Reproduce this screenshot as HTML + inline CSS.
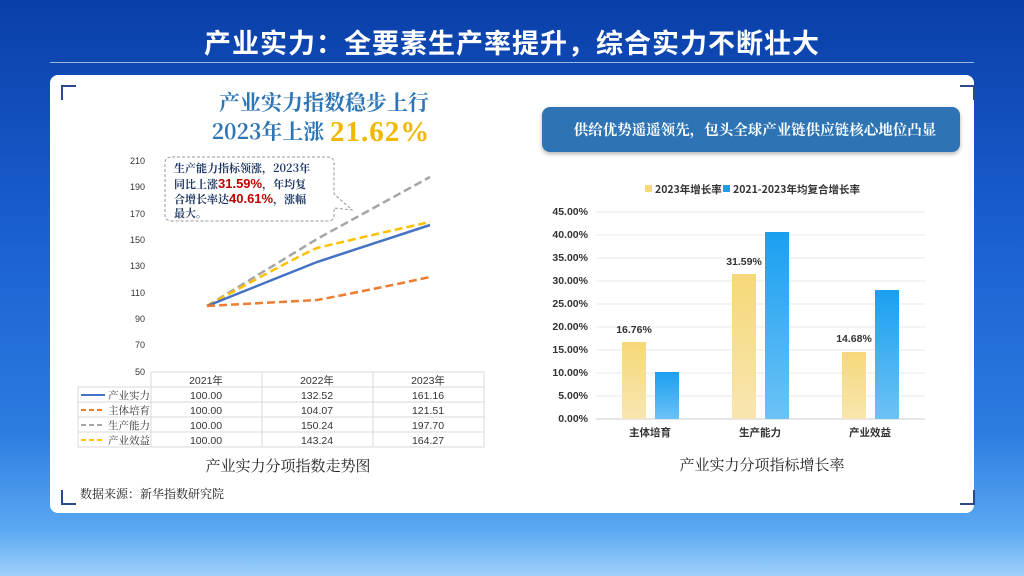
<!DOCTYPE html>
<html><head><meta charset="utf-8"><style>
body{margin:0;width:1024px;height:576px;overflow:hidden;font-family:"Liberation Sans","Noto Sans CJK SC",sans-serif;}
.bg{position:absolute;inset:0;background:linear-gradient(180deg,#0a3fa8 0%,#1a5fd0 40%,#2c7ce0 75%,#5aa8f2 92%,#9fd0fa 100%);}
.t{position:absolute;left:0;width:1024px;top:22px;text-align:center;color:#fff;font-size:27px;font-weight:bold;font-family:"Noto Sans CJK SC",sans-serif;letter-spacing:1px}
.card{position:absolute;left:50px;top:75px;width:924px;height:438px;background:#fff;border-radius:8px;}
.a{position:absolute}
</style></head><body>
<div class="bg"></div>
<div class="a" style="left:50px;top:62px;width:924px;height:1px;background:rgba(255,255,255,.6)"></div>
<div class="t">产业实力：全要素生产率提升，综合实力不断壮大</div>
<div class="card"></div>
<svg class="a" style="left:0;top:0" width="1024" height="576">
<g stroke="#2e4a8c" stroke-width="2" fill="none">
<path d="M62 100V86H76"/><path d="M62 490V504H76"/><path d="M960 86H974V100"/><path d="M960 504H974V490"/>
</g>
<text x="324" y="110" text-anchor="middle" font-family="Noto Serif CJK SC,serif" font-size="21" font-weight="bold" fill="#2e75b6">产业实力指数稳步上行</text>
<text x="268" y="139" text-anchor="middle" font-family="Noto Serif CJK SC,serif" font-size="21" font-weight="bold" fill="#2e75b6">2023年上涨</text>
<text x="330" y="141" font-family="Liberation Serif,serif" font-size="29" font-weight="bold" fill="#f0b800" letter-spacing="1">21.62%</text>
<g font-size="9" fill="#333" text-anchor="end">
<text x="145" y="164">210</text><text x="145" y="190">190</text><text x="145" y="217">170</text><text x="145" y="243">150</text><text x="145" y="269">130</text><text x="145" y="296">110</text><text x="145" y="322">90</text><text x="145" y="348">70</text><text x="145" y="375">50</text>
</g>
<path d="M207 306L317 239L430 177" stroke="#a5a5a5" stroke-width="2.5" stroke-dasharray="8,4" fill="none"/>
<path d="M207 306Q300 255 317 248Q380 233 430 222" stroke="#ffc000" stroke-width="2.5" stroke-dasharray="8,4" fill="none"/>
<path d="M207 306L317 262L430 225" stroke="#4472c4" stroke-width="2.5" fill="none"/>
<path d="M207 306Q280 302 317 300Q370 290 430 277" stroke="#ed7d31" stroke-width="2.5" stroke-dasharray="8,4" fill="none"/>
<path d="M172 157H328Q334 157 334 163V194L352 210L334 208V215Q334 221 328 221H172Q165 221 165 215V163Q165 157 172 157Z" fill="#fff" stroke="#999" stroke-dasharray="3,2"/>
<g font-family="Noto Serif CJK SC,serif" font-size="11" font-weight="bold" fill="#1f3864">
<text x="174" y="172">生产能力指标领涨，2023年</text>
<text x="174" y="188">同比上涨<tspan fill="#c00000" font-size="13" font-family="Liberation Sans">31.59%</tspan>，年均复</text>
<text x="174" y="203">合增长率达<tspan fill="#c00000" font-size="13" font-family="Liberation Sans">40.61%</tspan>，涨幅</text>
<text x="174" y="217">最大。</text>
</g>
<g stroke="#d9d9d9" fill="none">
<path d="M151 372H484V447H78V387H484M78 402H484M78 417H484M78 432H484M151 372V447M262 372V447M373 372V447M484 372V447M78 387V447"/>
</g>
<g font-size="10.5" fill="#333" text-anchor="middle">
<text x="206" y="384">2021年</text><text x="317" y="384">2022年</text><text x="428" y="384">2023年</text>
<text x="206" y="399">100.00</text><text x="317" y="399">132.52</text><text x="428" y="399">161.16</text>
<text x="206" y="414">100.00</text><text x="317" y="414">104.07</text><text x="428" y="414">121.51</text>
<text x="206" y="429">100.00</text><text x="317" y="429">150.24</text><text x="428" y="429">197.70</text>
<text x="206" y="444">100.00</text><text x="317" y="444">143.24</text><text x="428" y="444">164.27</text>
</g>
<g stroke-width="2"><path d="M81 395H105" stroke="#4472c4"/><path d="M81 410H105" stroke="#ed7d31" stroke-dasharray="5,3"/><path d="M81 425H105" stroke="#a5a5a5" stroke-dasharray="5,3"/><path d="M81 440H105" stroke="#ffc000" stroke-dasharray="5,3"/></g>
<g font-size="10.5" fill="#333" font-family="Noto Serif CJK SC,serif"><text x="108" y="399">产业实力</text><text x="108" y="414">主体培育</text><text x="108" y="429">生产能力</text><text x="108" y="444">产业效益</text></g>
<text x="288" y="471" text-anchor="middle" font-family="Noto Serif CJK SC,serif" font-size="15" fill="#222">产业实力分项指数走势图</text>
<text x="80" y="498" font-family="Noto Serif CJK SC,serif" font-size="12" fill="#222">数据来源：新华指数研究院</text>
<defs>
<linearGradient id="y" x1="0" y1="0" x2="0" y2="1"><stop offset="0" stop-color="#f5d878"/><stop offset="1" stop-color="#f8e6b0"/></linearGradient>
<linearGradient id="b" x1="0" y1="0" x2="0" y2="1"><stop offset="0" stop-color="#1a9ff0"/><stop offset="1" stop-color="#6cc2f6"/></linearGradient>
</defs>
<rect x="542" y="107" width="418" height="45" rx="8" fill="#2e74b5" style="filter:drop-shadow(0 2px 2px rgba(0,0,0,.3))"/>
<text x="755" y="135" text-anchor="middle" font-family="Noto Serif CJK SC,serif" font-size="14.5" font-weight="bold" fill="#fff">供给优势遥遥领先，包头全球产业链供应链核心地位凸显</text>
<rect x="645" y="185" width="7" height="7" fill="#f5d878"/><text x="655" y="193" font-size="10.5" font-weight="bold" fill="#333" font-family="Noto Sans CJK SC,sans-serif">2023年增长率</text>
<rect x="723" y="185" width="7" height="7" fill="#1a9ff0"/><text x="733" y="193" font-size="10.5" font-weight="bold" fill="#333" font-family="Noto Sans CJK SC,sans-serif">2021-2023年均复合增长率</text>
<g stroke="#e8e8e8"><path d="M596 212H925M596 235H925M596 258H925M596 281H925M596 304H925M596 327H925M596 350H925M596 373H925M596 396H925"/></g>
<path d="M596 419H925" stroke="#ccc"/>
<g font-size="10.5" font-weight="bold" fill="#333" text-anchor="end"><text x="588" y="215">45.00%</text><text x="588" y="238">40.00%</text><text x="588" y="261">35.00%</text><text x="588" y="284">30.00%</text><text x="588" y="307">25.00%</text><text x="588" y="330">20.00%</text><text x="588" y="353">15.00%</text><text x="588" y="376">10.00%</text><text x="588" y="399">5.00%</text><text x="588" y="422">0.00%</text></g>
<rect x="622" y="342" width="24" height="77" fill="url(#y)"/><rect x="655" y="372" width="24" height="47" fill="url(#b)"/>
<rect x="732" y="274" width="24" height="145" fill="url(#y)"/><rect x="765" y="232" width="24" height="187" fill="url(#b)"/>
<rect x="842" y="352" width="24" height="67" fill="url(#y)"/><rect x="875" y="290" width="24" height="129" fill="url(#b)"/>
<g font-size="10.5" font-weight="bold" fill="#333" text-anchor="middle"><text x="634" y="333">16.76%</text><text x="744" y="265">31.59%</text><text x="854" y="342">14.68%</text></g>
<g font-size="10.5" fill="#333" text-anchor="middle" font-family="Noto Sans CJK SC,sans-serif" font-weight="bold"><text x="650" y="436">主体培育</text><text x="760" y="436">生产能力</text><text x="870" y="436">产业效益</text></g>
<text x="762" y="470" text-anchor="middle" font-family="Noto Serif CJK SC,serif" font-size="15" fill="#222">产业实力分项指标增长率</text>
</svg>
</body></html>
